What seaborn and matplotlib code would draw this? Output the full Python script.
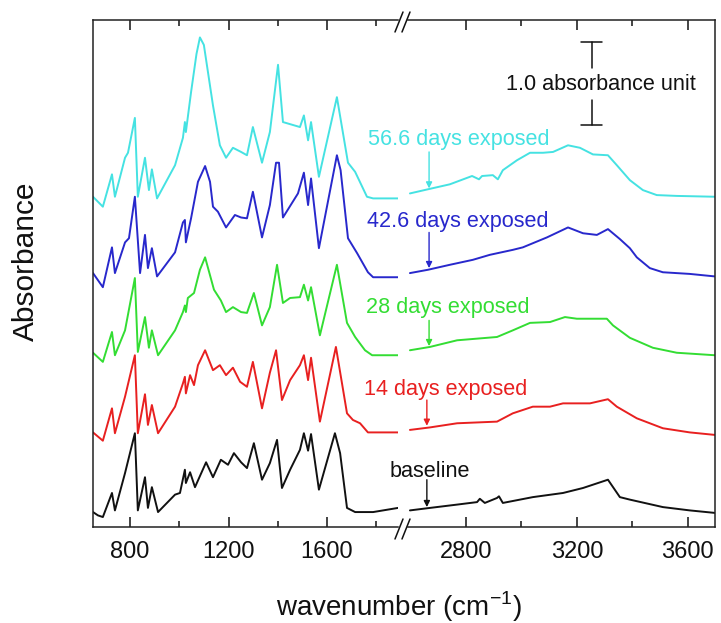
import numpy as np
import pandas as pd
import matplotlib
matplotlib.use("Agg")
import matplotlib.pyplot as plt
import seaborn as sns
from matplotlib.lines import Line2D

# ---------------- data (absorbance, offset spectra) ----------------
samples = ["baseline", "14 days exposed", "28 days exposed",
           "42.6 days exposed", "56.6 days exposed"]

# fingerprint region (650-1890 cm-1)
wn_base_l = [650, 670, 690, 727, 739, 780, 820, 832, 861, 873, 889, 914, 983, 1003, 1023, 1027, 1044, 1064,
             1109, 1137, 1169, 1198, 1222, 1251, 1275, 1303, 1336, 1368, 1397, 1417, 1450, 1490, 1506, 1523,
             1535, 1567, 1632, 1653, 1681, 1714, 1787, 1888]
a_base_l = [0.18, 0.14, 0.12, 0.41, 0.20, 0.65, 1.13, 0.20, 0.60, 0.23, 0.48, 0.18, 0.39, 0.41, 0.69, 0.53,
            0.66, 0.48, 0.78, 0.60, 0.81, 0.75, 0.89, 0.78, 0.71, 1.01, 0.57, 0.77, 1.05, 0.47, 0.69, 0.93,
            1.13, 0.92, 1.12, 0.45, 1.13, 0.89, 0.23, 0.18, 0.18, 0.23]

wn_14_l = [650, 690, 727, 739, 780, 820, 832, 861, 873, 889, 914, 983, 1015, 1023, 1027, 1044, 1060, 1076,
           1105, 1137, 1165, 1190, 1218, 1247, 1275, 1299, 1336, 1368, 1393, 1417, 1450, 1490, 1506, 1523,
           1535, 1571, 1636, 1681, 1705, 1734, 1766, 1888]
a_14_l = [1.14, 1.04, 1.43, 1.13, 1.57, 2.07, 1.13, 1.60, 1.23, 1.47, 1.13, 1.45, 1.73, 1.81, 1.61, 1.83,
          1.71, 1.95, 2.13, 1.89, 1.95, 1.83, 1.92, 1.75, 1.69, 1.99, 1.43, 1.86, 2.13, 1.53, 1.77, 1.95,
          2.07, 1.77, 2.04, 1.27, 2.17, 1.37, 1.29, 1.25, 1.14, 1.14]

wn_28_l = [650, 690, 727, 739, 780, 820, 832, 861, 877, 889, 914, 983, 1015, 1023, 1027, 1035, 1060, 1084,
           1105, 1141, 1169, 1190, 1218, 1251, 1275, 1303, 1336, 1368, 1397, 1421, 1450, 1490, 1506, 1523,
           1535, 1571, 1640, 1681, 1714, 1754, 1783, 1888]
a_28_l = [2.10, 1.99, 2.35, 2.07, 2.37, 3.00, 2.11, 2.53, 2.16, 2.37, 2.07, 2.37, 2.59, 2.67, 2.59, 2.76,
          2.82, 3.10, 3.25, 2.86, 2.73, 2.59, 2.65, 2.59, 2.58, 2.82, 2.43, 2.65, 3.16, 2.70, 2.76, 2.77,
          2.92, 2.73, 2.89, 2.31, 3.16, 2.46, 2.29, 2.13, 2.07, 2.07]

wn_42_l = [650, 690, 727, 739, 780, 796, 820, 841, 861, 873, 889, 910, 983, 1015, 1023, 1027, 1048, 1076,
           1105, 1125, 1137, 1157, 1190, 1226, 1251, 1275, 1299, 1336, 1368, 1393, 1405, 1421, 1482, 1506,
           1523, 1535, 1567, 1640, 1655, 1685, 1722, 1766, 1787, 1888]
a_42_l = [3.06, 2.89, 3.37, 3.06, 3.43, 3.48, 3.98, 3.06, 3.52, 3.12, 3.36, 3.02, 3.31, 3.67, 3.70, 3.43,
          3.72, 4.16, 4.35, 4.16, 3.86, 3.80, 3.61, 3.76, 3.73, 3.72, 4.04, 3.49, 3.88, 4.39, 4.39, 3.73,
          4.02, 4.27, 3.88, 4.20, 3.36, 4.48, 4.30, 3.48, 3.30, 3.07, 3.01, 3.01]

wn_56_l = [650, 690, 727, 739, 780, 792, 820, 832, 861, 877, 889, 910, 983, 1015, 1023, 1027, 1048, 1070,
           1084, 1100, 1137, 1165, 1190, 1218, 1251, 1275, 1299, 1336, 1368, 1401, 1421, 1490, 1506, 1523,
           1535, 1567, 1640, 1685, 1714, 1762, 1787, 1888]
a_56_l = [3.98, 3.86, 4.25, 3.98, 4.45, 4.51, 4.93, 3.98, 4.45, 4.06, 4.31, 3.96, 4.36, 4.69, 4.88, 4.76,
          5.24, 5.70, 5.90, 5.81, 5.08, 4.60, 4.45, 4.57, 4.52, 4.48, 4.82, 4.39, 4.76, 5.57, 4.88, 4.82,
          4.96, 4.66, 4.88, 4.22, 5.18, 4.39, 4.28, 3.98, 3.96, 3.96]

# high-wavenumber region (2600-3700 cm-1)
wn_base_r = [2598, 2670, 2768, 2840, 2850, 2868, 2912, 2919, 2933, 3041, 3150, 3222, 3312, 3355, 3391, 3510,
             3607, 3697]
a_base_r = [0.20, 0.23, 0.27, 0.30, 0.34, 0.29, 0.35, 0.37, 0.29, 0.36, 0.41, 0.47, 0.57, 0.36, 0.33, 0.24,
            0.20, 0.17]

wn_14_r = [2598, 2670, 2768, 2912, 2969, 3041, 3103, 3150, 3247, 3312, 3344, 3416, 3510, 3607, 3697]
a_14_r = [1.17, 1.20, 1.25, 1.27, 1.37, 1.45, 1.45, 1.49, 1.49, 1.54, 1.45, 1.31, 1.19, 1.14, 1.11]

wn_28_r = [2598, 2670, 2768, 2912, 2969, 3031, 3103, 3157, 3200, 3308, 3330, 3391, 3474, 3560, 3697]
a_28_r = [2.13, 2.17, 2.25, 2.29, 2.37, 2.46, 2.47, 2.53, 2.51, 2.51, 2.43, 2.28, 2.16, 2.10, 2.07]

wn_42_r = [2598, 2663, 2742, 2825, 2886, 2969, 3005, 3092, 3168, 3222, 3272, 3312, 3355, 3391, 3416, 3463,
           3510, 3607, 3697]
a_42_r = [3.06, 3.10, 3.16, 3.22, 3.28, 3.34, 3.37, 3.49, 3.61, 3.54, 3.52, 3.59, 3.47, 3.36, 3.25, 3.12,
          3.07, 3.05, 3.02]

wn_56_r = [2598, 2663, 2742, 2822, 2847, 2858, 2897, 2915, 2933, 2984, 3031, 3078, 3114, 3168, 3211, 3258,
           3312, 3344, 3391, 3438, 3488, 3560, 3697]
a_56_r = [4.02, 4.07, 4.13, 4.23, 4.19, 4.23, 4.24, 4.19, 4.30, 4.42, 4.51, 4.51, 4.52, 4.60, 4.57, 4.49,
          4.48, 4.36, 4.18, 4.06, 4.00, 3.99, 3.98]

# annotation anchors (wavenumber, absorbance)
label_wn = [2670, 2728, 2735, 2769, 2775]
label_a = [0.60, 1.59, 2.58, 3.61, 4.60]
arrow_wn = [2659, 2659, 2667, 2667, 2667]
arrow_tail = [0.57, 1.53, 2.49, 3.55, 4.52]
arrow_tip = [0.24, 1.22, 2.18, 3.12, 4.08]
scale_wn, scale_top, scale_len = 3254, 5.84, 1.0

colors = ["#111111", "#E82020", "#33DD33", "#2828CC", "#45E2E2"]
palette = dict(zip(samples, colors))


def long_frame(pairs):
    frames = []
    for s, (w, a) in zip(samples, pairs):
        frames.append(pd.DataFrame({"wavenumber": w, "absorbance": a, "sample": s}))
    return pd.concat(frames, ignore_index=True)


df_left = long_frame([(wn_base_l, a_base_l), (wn_14_l, a_14_l), (wn_28_l, a_28_l),
                      (wn_42_l, a_42_l), (wn_56_l, a_56_l)])
df_right = long_frame([(wn_base_r, a_base_r), (wn_14_r, a_14_r), (wn_28_r, a_28_r),
                       (wn_42_r, a_42_r), (wn_56_r, a_56_r)])

# ---------------- style ----------------
sns.set_style("ticks")
plt.rcParams["font.family"] = ["Liberation Sans", "DejaVu Sans"]
plt.rcParams["mathtext.fontset"] = "custom"
plt.rcParams["mathtext.rm"] = "Liberation Sans"

W, H = 721, 623
fig = plt.figure(figsize=(W / 100, H / 100), dpi=100)
ax1 = fig.add_axes([93 / W, 1 - 527 / H, (398 - 93) / W, 507 / H])
ax2 = fig.add_axes([408 / W, 1 - 527 / H, (715 - 408) / W, 507 / H])

for ax, df in ((ax1, df_left), (ax2, df_right)):
    sns.lineplot(data=df, x="wavenumber", y="absorbance", hue="sample", hue_order=samples,
                 palette=palette, ax=ax, legend=False, estimator=None, sort=False, linewidth=1.4,
                 solid_joinstyle="round", solid_capstyle="round")
    ax.set_ylim(0, 6.11)
    ax.set_yticks([])
    ax.set_xlabel("")
    ax.set_ylabel("")
    ax.tick_params(axis="x", which="both", direction="in", top=True, bottom=True,
                   labelsize=17, width=1.1, pad=10, colors="#111111")
    ax.tick_params(axis="x", which="major", length=7)
    ax.tick_params(axis="x", which="minor", length=4.5)
    for sp in ax.spines.values():
        sp.set_linewidth(1.1)
        sp.set_color("#222222")

ax1.set_xlim(650, 1888)
ax1.set_xticks([800, 1200, 1600])
ax1.set_xticks([1000, 1400, 1800], minor=True)
ax1.spines["right"].set_visible(False)

ax2.set_xlim(2591, 3698)
ax2.set_xticks([2800, 3200, 3600])
ax2.set_xticks([3000, 3400], minor=True)
ax2.spines["left"].set_visible(False)

# break marks
for cy in (22, 529):
    for cx in (399, 406):
        fig.add_artist(Line2D([(cx - 4) / W, (cx + 4) / W], [1 - (cy + 10) / H, 1 - (cy - 10) / H],
                              transform=fig.transFigure, color="#111111", lw=1.1))

# labels and arrows
for s, c, lw_, la, aw, at, ah in zip(samples, colors, label_wn, label_a, arrow_wn, arrow_tail, arrow_tip):
    ax2.text(lw_, la, s, color=c, fontsize=15.6, ha="center", va="baseline", clip_on=False)
    ax2.annotate("", xy=(aw, ah), xytext=(aw, at),
                 arrowprops=dict(arrowstyle="-|>", color=c, lw=1.0, mutation_scale=9,
                                 shrinkA=0, shrinkB=0))

# scale bar: 1.0 absorbance unit
cap = 38
ax2.plot([scale_wn, scale_wn], [scale_top, scale_top - 0.31], color="#111111", lw=1.1)
ax2.plot([scale_wn - cap, scale_wn + cap], [scale_top, scale_top], color="#111111", lw=1.1)
ax2.plot([scale_wn, scale_wn], [scale_top - scale_len + 0.31, scale_top - scale_len], color="#111111", lw=1.1)
ax2.plot([scale_wn - cap, scale_wn + cap], [scale_top - scale_len, scale_top - scale_len],
         color="#111111", lw=1.1)
ax2.text(3287, 5.27, "1.0 absorbance unit", fontsize=15.6, ha="center", va="baseline", color="#111111")

fig.text(26 / W, 1 - 261 / H, "Absorbance", rotation=90, ha="center", va="center", fontsize=21.5,
         color="#111111")
fig.text(399 / W, 1 - 607 / H, "wavenumber (cm$^{\\mathregular{-1}}$)", ha="center", va="center",
         fontsize=20, color="#111111")

fig.savefig("out.png", dpi=100)
